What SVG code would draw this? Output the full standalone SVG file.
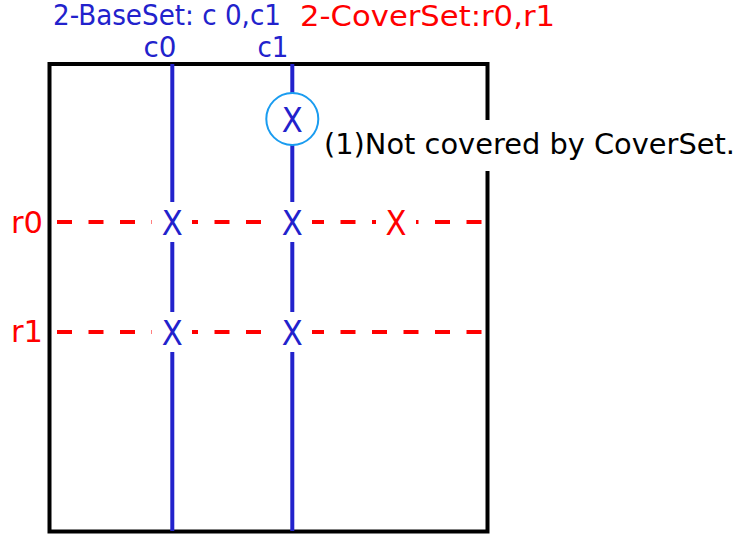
<svg xmlns="http://www.w3.org/2000/svg" width="747" height="534" viewBox="0 0 747 534">
<style>
text{font-family:"DejaVu Sans","Liberation Sans",sans-serif}
.blue{fill:#2222cc}
.red{fill:#ff0000}
.vline{stroke:#2222cc;stroke-width:4;fill:none}
.hline{stroke:#ff0000;stroke-width:4;stroke-dasharray:15 16.5;fill:none}
.gap{fill:#ffffff}
.xm{font-size:34px;text-anchor:middle}
</style>
<rect width="747" height="534" fill="#ffffff"/>
<g id="frame">
<rect x="49.5" y="64" width="438" height="467.5" fill="none" stroke="#000" stroke-width="4"/>
</g>
<g id="connectors">
<line class="vline" x1="172.3" y1="64" x2="172.3" y2="531"/>
<line class="vline" x1="292.3" y1="64" x2="292.3" y2="531"/>
<line class="hline" x1="57" y1="222" x2="483" y2="222"/>
<line class="hline" x1="57" y1="332" x2="483" y2="332"/>
</g>
<g id="marks">
<rect class="gap" x="152" y="202" width="40" height="40"/>
<rect class="gap" x="272" y="202" width="40" height="40"/>
<rect class="gap" x="152" y="312" width="40" height="40"/>
<rect class="gap" x="272" y="312" width="40" height="40"/>
<rect class="gap" x="376" y="202" width="40" height="40"/>
<text class="xm blue" x="172.3" y="235" textLength="21" lengthAdjust="spacingAndGlyphs">X</text>
<text class="xm blue" x="292.3" y="235" textLength="21" lengthAdjust="spacingAndGlyphs">X</text>
<text class="xm blue" x="172.3" y="345" textLength="21" lengthAdjust="spacingAndGlyphs">X</text>
<text class="xm blue" x="292.3" y="345" textLength="21" lengthAdjust="spacingAndGlyphs">X</text>
<text class="xm red" x="396" y="235" textLength="21" lengthAdjust="spacingAndGlyphs">X</text>
</g>
<g id="circle-node">
<circle cx="292.3" cy="119" r="26" fill="#ffffff" stroke="#1a9cf0" stroke-width="2"/>
<text class="xm blue" x="292.3" y="132" textLength="21" lengthAdjust="spacingAndGlyphs">X</text>
</g>
<g id="note">
<rect class="gap" x="320" y="120" width="420" height="51"/>
<text x="324" y="154" font-size="29" fill="#000" textLength="411" lengthAdjust="spacingAndGlyphs">(1)Not covered by CoverSet.</text>
</g>
<g id="labels">
<text class="blue" x="53" y="25" font-size="27.5" textLength="228" lengthAdjust="spacingAndGlyphs">2-BaseSet: c 0,c1</text>
<text class="red" x="300" y="26" font-size="29" textLength="255" lengthAdjust="spacingAndGlyphs">2-CoverSet:r0,r1</text>
<text class="blue" x="143.5" y="57" font-size="27.5" textLength="33" lengthAdjust="spacingAndGlyphs">c0</text>
<text class="blue" x="257.5" y="57" font-size="27.5" textLength="31" lengthAdjust="spacingAndGlyphs">c1</text>
<text class="red" x="11" y="233" font-size="31" textLength="32" lengthAdjust="spacingAndGlyphs">r0</text>
<text class="red" x="11" y="342" font-size="31" textLength="32" lengthAdjust="spacingAndGlyphs">r1</text>
</g>
</svg>
